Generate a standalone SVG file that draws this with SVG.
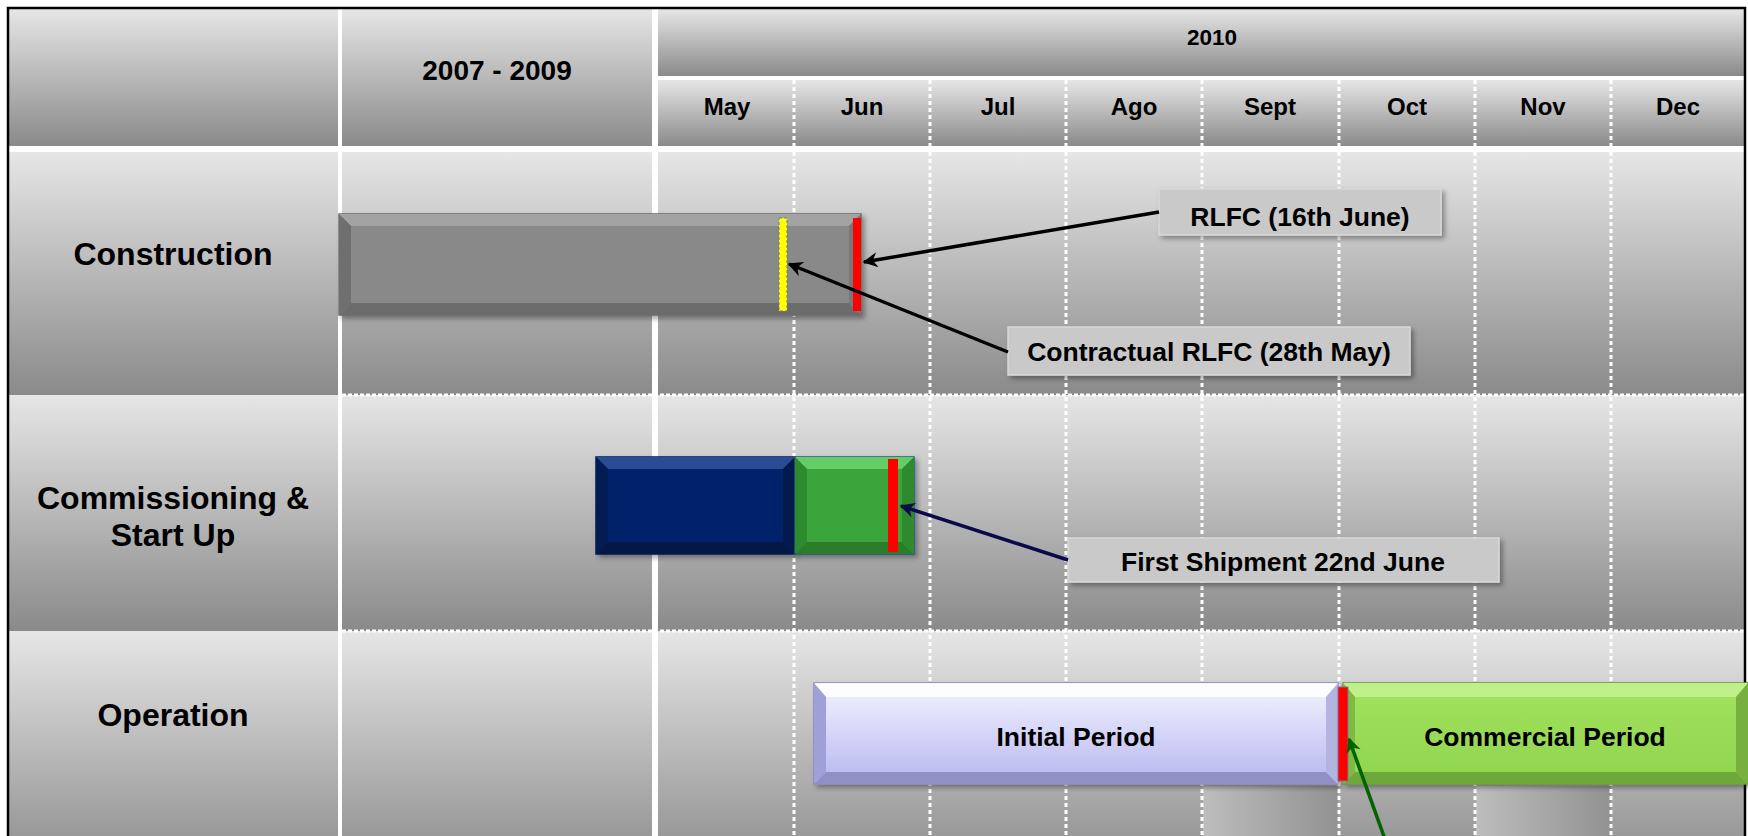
<svg xmlns="http://www.w3.org/2000/svg" width="1748" height="836" viewBox="0 0 1748 836">
<style>
text{font-family:"Liberation Sans",Arial,sans-serif;font-weight:bold;fill:#000;text-anchor:middle}
.lbl{font-size:32px}
.mon{font-size:24px}
.call{font-size:26.5px}
.bar{font-size:26.5px}
.cell{fill:url(#gcell)}
.dotv{stroke:#fff;stroke-width:3;stroke-dasharray:4 3;fill:none}
.doth{stroke:#fff;stroke-width:3;stroke-dasharray:4 2;fill:none}
.box{fill:#c9c9c9;stroke:#d8d8d8;stroke-width:1.5;filter:url(#sh)}
.arr{fill:none;stroke-width:3.5}
</style>
<defs>
<linearGradient id="gcell" x1="0" y1="0" x2="0" y2="1">
<stop offset="0" stop-color="#e6e6e6"/><stop offset="1" stop-color="#8a8a8a"/>
</linearGradient>
<linearGradient id="gpatch" x1="0" y1="0" x2="1" y2="0">
<stop offset="0" stop-color="#bdbdbd"/><stop offset="1" stop-color="#929292"/>
</linearGradient>
<linearGradient id="gini" x1="0" y1="0" x2="0" y2="1">
<stop offset="0" stop-color="#f4f4ff"/><stop offset="1" stop-color="#b6b6f0"/>
</linearGradient>
<linearGradient id="gcom" x1="0" y1="0" x2="0" y2="1">
<stop offset="0" stop-color="#a2e25e"/><stop offset="1" stop-color="#90d44e"/>
</linearGradient>
<filter id="sh" x="-10%" y="-20%" width="130%" height="160%">
<feDropShadow dx="3" dy="3" stdDeviation="2.5" flood-color="#000" flood-opacity="0.35"/>
</filter>
<marker id="ahk" viewBox="0 0 10 10" refX="9" refY="5" markerUnits="userSpaceOnUse" markerWidth="20" markerHeight="15" orient="auto">
<path d="M0,0 L10,5 L0,10 L3,5 z" fill="#000"/>
</marker>
<marker id="ahn" viewBox="0 0 10 10" refX="9" refY="5" markerUnits="userSpaceOnUse" markerWidth="20" markerHeight="15" orient="auto">
<path d="M0,0 L10,5 L0,10 L3,5 z" fill="#0a0a4a"/>
</marker>
<marker id="ahg" viewBox="0 0 10 10" refX="9" refY="5" markerUnits="userSpaceOnUse" markerWidth="20" markerHeight="15" orient="auto">
<path d="M0,0 L10,5 L0,10 L3,5 z" fill="#006400"/>
</marker>
</defs>
<rect width="1748" height="836" fill="#fff"/>

<g id="grid">
<rect class="cell" x="9" y="9" width="329" height="137"/>
<rect class="cell" x="342" y="9" width="310" height="137"/>
<rect class="cell" x="658" y="9" width="1087" height="67"/>
<rect class="cell" x="658" y="80" width="1087" height="66"/>
<rect class="cell" x="9" y="152" width="329" height="243"/>
<rect class="cell" x="342" y="152" width="310" height="243"/>
<rect class="cell" x="658" y="152" width="1087" height="243"/>
<rect class="cell" x="9" y="395" width="329" height="236"/>
<rect class="cell" x="342" y="395" width="310" height="236"/>
<rect class="cell" x="658" y="395" width="1087" height="236"/>
<rect class="cell" x="9" y="631" width="329" height="244"/>
<rect class="cell" x="342" y="631" width="310" height="244"/>
<rect class="cell" x="658" y="631" width="1087" height="244"/>
<rect x="1203" y="786" width="135" height="52" fill="url(#gpatch)"/>
<rect x="1476" y="786" width="135" height="52" fill="url(#gpatch)"/>
<path class="doth" d="M342,395 H1745 M342,631 H1745"/>
<path class="dotv" d="M794,80 V146 M930,80 V146 M1066,80 V146 M1202,80 V146 M1339,80 V146 M1475,80 V146 M1611,80 V146"/>
<path class="dotv" d="M794,152 V836 M930,152 V836 M1066,152 V836 M1202,152 V836 M1339,152 V836 M1475,152 V836 M1611,152 V836"/>
<rect x="8" y="8" width="1737" height="840" fill="none" stroke="#000" stroke-width="2.5"/>
</g>

<g id="header">
<text x="497" y="80" style="font-size:28px">2007 - 2009</text>
<text x="1212" y="45" style="font-size:22.5px">2010</text>
<text x="727" y="115" class="mon">May</text>
<text x="862" y="115" class="mon">Jun</text>
<text x="998" y="115" class="mon">Jul</text>
<text x="1134" y="115" class="mon">Ago</text>
<text x="1270" y="115" class="mon">Sept</text>
<text x="1407" y="115" class="mon">Oct</text>
<text x="1543" y="115" class="mon">Nov</text>
<text x="1678" y="115" class="mon">Dec</text>
</g>

<g id="row-labels">
<text x="173" y="265" class="lbl">Construction</text>
<text x="173" y="509" class="lbl">Commissioning &amp;</text>
<text x="173" y="546" class="lbl">Start Up</text>
<text x="173" y="726" class="lbl">Operation</text>
</g>

<g id="construction-bar">
<rect x="339" y="214" width="522" height="101" fill="#898989" stroke="#6a6a6a" stroke-width="1.5" filter="url(#sh)"/>
<polygon points="339,214 861,214 849,226 351,226" fill="#a3a3a3"/>
<polygon points="339,214 351,226 351,303 339,315" fill="#6f6f6f"/>
<polygon points="339,315 861,315 849,303 351,303" fill="#6c6c6c"/>
<polygon points="861,214 849,226 849,303 861,315" fill="#777"/>
<rect x="779" y="218" width="8" height="93" fill="#ffff00" stroke="#777799" stroke-width="1" stroke-dasharray="3 2"/>
<rect x="853" y="218" width="8" height="93" fill="#ff0000"/>
</g>

<g id="commissioning-bar">
<rect x="596" y="457" width="199" height="97" fill="#05246a" stroke="#021a50" stroke-width="1.5" filter="url(#sh)"/>
<polygon points="596,457 795,457 783,469 608,469" fill="#2a4c94"/>
<polygon points="596,457 608,469 608,542 596,554" fill="#041c54"/>
<polygon points="596,554 795,554 783,542 608,542" fill="#031846"/>
<polygon points="795,457 783,469 783,542 795,554" fill="#031a4c"/>
<rect x="795" y="457" width="119" height="97" fill="#3aa53a" stroke="#1d5a8a" stroke-width="1.5" filter="url(#sh)"/>
<polygon points="795,457 914,457 902,469 807,469" fill="#66cc66"/>
<polygon points="795,457 807,469 807,542 795,554" fill="#2d8a2d"/>
<polygon points="795,554 914,554 902,542 807,542" fill="#2b7d2b"/>
<polygon points="914,457 902,469 902,542 914,554" fill="#2f8a2f"/>
<rect x="888" y="459" width="10" height="93" fill="#ff0000"/>
</g>

<g id="operation-bars">
<rect x="814" y="683" width="524" height="101" fill="url(#gini)" stroke="#8a8ac0" stroke-width="1.5" filter="url(#sh)"/>
<polygon points="814,683 1338,683 1326,697 826,697" fill="#ffffff" opacity="0.85"/>
<polygon points="814,683 826,697 826,772 814,784" fill="#a0a0d8"/>
<polygon points="814,784 1338,784 1326,772 826,772" fill="#9090c4"/>
<polygon points="1338,683 1326,697 1326,772 1338,784" fill="#b4b4e0"/>
<text x="1076" y="746" class="bar">Initial Period</text>
<rect x="1343" y="683" width="405" height="101" fill="url(#gcom)" stroke="#6a9a3a" stroke-width="1.5" filter="url(#sh)"/>
<polygon points="1343,683 1748,683 1736,697 1355,697" fill="#c0f08a"/>
<polygon points="1343,683 1355,697 1355,772 1343,784" fill="#7dbb45"/>
<polygon points="1343,784 1748,784 1736,772 1355,772" fill="#6fa83a"/>
<polygon points="1748,683 1736,697 1736,772 1748,784" fill="#78b040"/>
<text x="1545" y="746" class="bar">Commercial Period</text>
<rect x="1338" y="687" width="10" height="94" fill="#ff0000" stroke="#777799" stroke-width="1"/>
</g>

<g id="callout-rlfc">
<rect class="box" x="1159" y="189" width="282" height="46"/>
<text x="1300" y="226" class="call">RLFC (16th June)</text>
</g>
<g id="callout-contractual">
<rect class="box" x="1008" y="327" width="402" height="48"/>
<text x="1209" y="361" class="call">Contractual RLFC (28th May)</text>
</g>
<g id="callout-shipment">
<rect class="box" x="1068" y="538" width="431" height="44"/>
<text x="1283" y="571" class="call">First Shipment 22nd June</text>
</g>

<g id="connectors">
<line class="arr" x1="1159" y1="212" x2="864" y2="262" stroke="#000" marker-end="url(#ahk)"/>
<line class="arr" x1="1008" y1="352" x2="789" y2="264" stroke="#000" marker-end="url(#ahk)"/>
<line class="arr" x1="1068" y1="560" x2="901" y2="506" stroke="#0a0a4a" marker-end="url(#ahn)"/>
<line class="arr" x1="1386" y1="842" x2="1349" y2="739" stroke="#006400" marker-end="url(#ahg)"/>
</g>
</svg>
